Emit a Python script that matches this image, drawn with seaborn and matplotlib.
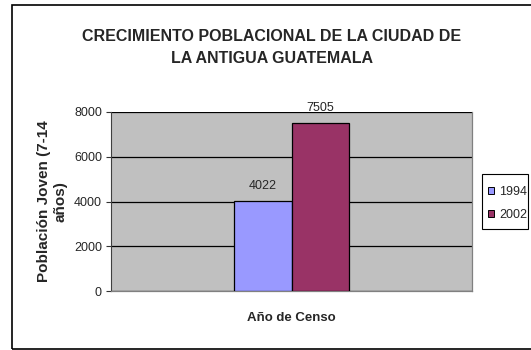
import matplotlib
matplotlib.use("Agg")
import matplotlib.pyplot as plt
from matplotlib.patches import Rectangle
import seaborn as sns
import pandas as pd

# Census data
years = ["1994", "2002"]
population = [4022, 7505]
category = [""]
yticks = [0, 2000, 4000, 6000, 8000]
colors = ["#9999FF", "#993366"]

sns.set_style("white")
plt.rcParams["font.family"] = ["Liberation Sans", "DejaVu Sans"]

df = pd.DataFrame({
    "grupo": category * len(years),
    "anio": years,
    "valor": population,
})

W, H = 531, 350
fig = plt.figure(figsize=(W / 100, H / 100), dpi=100)
fig.patch.set_facecolor("white")

# axes placed in pixel coordinates
left, right, top, bottom = 111, 472, 112, 291
ax = fig.add_axes([left / W, 1 - bottom / H, (right - left) / W, (bottom - top) / H])
ax.set_facecolor("#C0C0C0")

sns.barplot(data=df, x="grupo", y="valor", hue="anio", palette=colors,
            saturation=1, width=0.316, edgecolor="black", linewidth=0.9,
            ax=ax, zorder=3)

ax.set_ylim(0, 8000)
ax.set_xlim(-0.5, 0.5)
ax.set_yticks(yticks)
ax.set_yticklabels([str(t) for t in yticks], fontsize=9)
ax.yaxis.grid(True, color="black", linewidth=0.9, zorder=1)
ax.set_axisbelow(True)
ax.tick_params(axis="y", length=3.5, width=0.8, color="#333333", pad=3, left=True)
ax.tick_params(axis="x", length=0, labelbottom=False)

for side in ["right", "bottom"]:
    ax.spines[side].set_color("#808080")
    ax.spines[side].set_linewidth(0.9)
ax.spines["left"].set_color("#404040")
ax.spines["top"].set_visible(False)

for cont in ax.containers:
    ax.bar_label(cont, labels=[f"{v:.0f}" for v in cont.datavalues],
                 fontsize=9, padding=6.5)

ax.set_xlabel("Año de Censo", fontsize=9.5, fontweight="bold", labelpad=15)
ax.set_ylabel("Población Joven (7-14\naños)", fontsize=11, fontweight="bold",
              labelpad=5, linespacing=1.2)

# legend entries without frame; frame drawn as its own box
handles, labels = ax.get_legend_handles_labels()
leg = ax.legend(handles, labels, loc="center left", bbox_to_anchor=(488 / W, 1 - 203.5 / H),
                bbox_transform=fig.transFigure, fontsize=9, frameon=False,
                handlelength=0.5, handleheight=0.5, handletextpad=0.4,
                borderpad=0, labelspacing=0.9, borderaxespad=0)
for p in leg.get_patches():
    p.set_edgecolor("black")
    p.set_linewidth(0.7)
fig.add_artist(Rectangle((482 / W, 1 - 229 / H), (528 - 482) / W, (229 - 174) / H,
                         transform=fig.transFigure, fill=False, edgecolor="black",
                         linewidth=0.8, clip_on=False))

fig.text(272 / W, 1 - 47.5 / H, "CRECIMIENTO POBLACIONAL DE LA CIUDAD DE\nLA ANTIGUA GUATEMALA",
         ha="center", va="center", fontsize=11.5, fontweight="bold", linespacing=1.55)

# outer chart border
fig.add_artist(Rectangle((12 / W, 1 - 349 / H), (W + 10 - 12) / W, (349 - 5) / H,
                         transform=fig.transFigure, fill=False, edgecolor="black",
                         linewidth=1.2, clip_on=False))

fig.savefig("out.png", dpi=100)
